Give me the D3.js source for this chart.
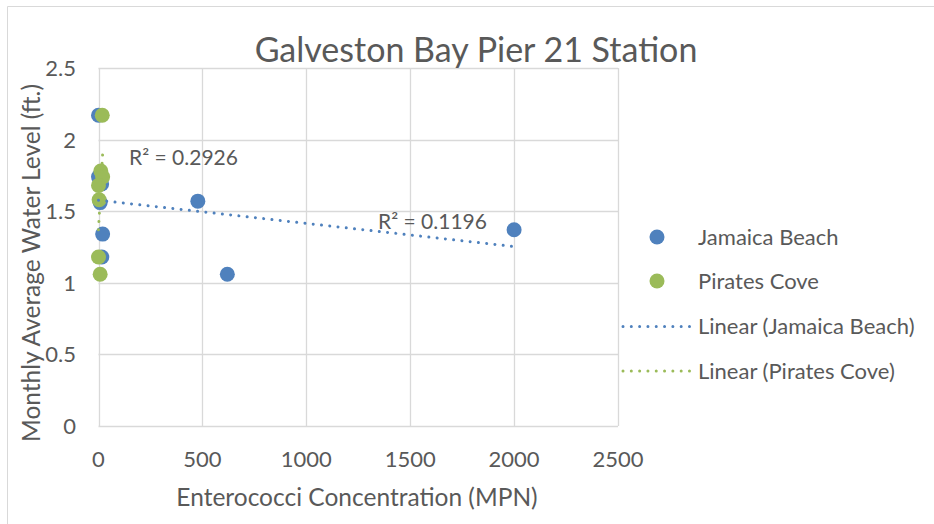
<!DOCTYPE html>
<meta charset="utf-8">
<style>
body { margin: 0; background: #fff; }
text { font-family: Lato, "Open Sans", sans-serif; fill: #595959; }
</style>
<html>
<head><title>Galveston Bay Pier 21 Station</title></head>
<body>
<svg id="chart" width="934" height="524"></svg>
</body>
</html>
<script src="https://cdnjs.cloudflare.com/ajax/libs/d3/7.8.5/d3.min.js"></script>
<script>
// data
var jamaicaX = [0, 0, 15, 8, 20, 16, 478, 620, 2000];
var jamaicaY = [2.17, 1.74, 1.69, 1.56, 1.34, 1.18, 1.57, 1.06, 1.37];
var piratesX = [18, 11, 20, 0, 3, 0, 8];
var piratesY = [2.17, 1.78, 1.74, 1.68, 1.58, 1.18, 1.06];
var xTicks = [0, 500, 1000, 1500, 2000, 2500];
var yTicks = [0, 0.5, 1, 1.5, 2, 2.5];
var seriesNames = ["Jamaica Beach", "Pirates Cove"];
var r2Labels = ["R\u00b2 = 0.1196", "R\u00b2 = 0.2926"];

var blue = "#4f81bd", green = "#9bbb59", grid = "#d9d9d9";

var svg = d3.select("#chart");

// outer chart border (top + left only show)
svg.append("path")
  .attr("d", "M7.5,524 V6.5 H934")
  .attr("fill", "none").attr("stroke", grid).attr("stroke-width", 1);

var x = d3.scaleLinear().domain([0, 2500]).range([98.5, 618]);
var y = d3.scaleLinear().domain([0, 2.5]).range([426, 68]);

// gridlines
svg.append("g").selectAll("line").data(yTicks).enter().append("line")
  .attr("x1", x(0)).attr("x2", x(2500))
  .attr("y1", function(d) { return Math.round(y(d)) + 0.5; })
  .attr("y2", function(d) { return Math.round(y(d)) + 0.5; })
  .attr("stroke", grid).attr("stroke-width", 1.3);
svg.append("g").selectAll("line").data(xTicks).enter().append("line")
  .attr("y1", y(0)).attr("y2", y(2.5))
  .attr("x1", function(d) { return Math.round(x(d)) + 0.5; })
  .attr("x2", function(d) { return Math.round(x(d)) + 0.5; })
  .attr("stroke", grid).attr("stroke-width", 1.3);

// tick labels
svg.append("g").selectAll("text").data(yTicks).enter().append("text")
  .attr("x", 76).attr("y", function(d) { return y(d); })
  .attr("dy", "0.36em").attr("text-anchor", "end")
  .style("font-size", "22px")
  .text(function(d) { return d; });
svg.append("g").selectAll("text").data(xTicks).enter().append("text")
  .attr("x", function(d) { return x(d); }).attr("y", 459)
  .attr("dy", "0.36em").attr("text-anchor", "middle")
  .style("font-size", "22px")
  .text(function(d) { return d; });

// titles
svg.append("text").attr("x", 476).attr("y", 50).attr("dy", "0.36em")
  .attr("text-anchor", "middle").style("font-size", "34px")
  .text("Galveston Bay Pier 21 Station");
svg.append("text").attr("x", 357).attr("y", 497).attr("dy", "0.36em")
  .attr("text-anchor", "middle").style("font-size", "24.5px")
  .text("Enterococci Concentration (MPN)");
svg.append("text").attr("transform", "translate(31,263) rotate(-90)")
  .attr("dy", "0.36em").attr("text-anchor", "middle").style("font-size", "24.5px")
  .text("Monthly Average Water Level (ft.)");

function pairs(xs, ys) {
  return xs.map(function(v, i) { return {x: v, y: ys[i]}; });
}

// least squares line over the series' x range, like an Excel linear trendline
function linearFit(pts) {
  var mx = d3.mean(pts, function(d) { return d.x; });
  var my = d3.mean(pts, function(d) { return d.y; });
  var sxy = 0, sxx = 0;
  pts.forEach(function(d) { sxy += (d.x - mx) * (d.y - my); sxx += (d.x - mx) * (d.x - mx); });
  var b = sxy / sxx, a = my - b * mx;
  var ext = d3.extent(pts, function(d) { return d.x; });
  return [{x: ext[0], y: a + b * ext[0]}, {x: ext[1], y: a + b * ext[1]}];
}

var jamaica = pairs(jamaicaX, jamaicaY);
var pirates = pairs(piratesX, piratesY);

// markers
[[jamaica, blue], [pirates, green]].forEach(function(s) {
  svg.append("g").selectAll("circle").data(s[0]).enter().append("circle")
    .attr("cx", function(d) { return x(d.x); })
    .attr("cy", function(d) { return y(d.y); })
    .attr("r", 7.5)
    .attr("fill", s[1]);
});

// trendlines
var line = d3.line().x(function(d) { return x(d.x); }).y(function(d) { return y(d.y); });
[[jamaica, blue], [pirates, green]].forEach(function(s) {
  svg.append("path").datum(linearFit(s[0]))
    .attr("d", line)
    .attr("fill", "none").attr("stroke", s[1])
    .attr("stroke-width", 3).attr("stroke-linecap", "round")
    .attr("stroke-dasharray", "0.01 8.3");
});

// R squared labels
svg.append("text").attr("x", 378).attr("y", 229).style("font-size", "21px").text(r2Labels[0]);
svg.append("text").attr("x", 129).attr("y", 165).style("font-size", "21px").text(r2Labels[1]);

// legend
var legendY = [237, 281, 326.5, 371];
var legendLabels = seriesNames.concat(seriesNames.map(function(n) { return "Linear (" + n + ")"; }));
var legendColors = [blue, green, blue, green];
var lg = svg.append("g");
legendLabels.forEach(function(lbl, i) {
  if (i < 2) {
    lg.append("circle").attr("cx", 657).attr("cy", legendY[i]).attr("r", 7.5).attr("fill", legendColors[i]);
  } else {
    lg.append("line").attr("x1", 623).attr("x2", 690)
      .attr("y1", legendY[i]).attr("y2", legendY[i])
      .attr("stroke", legendColors[i]).attr("stroke-width", 3)
      .attr("stroke-linecap", "round").attr("stroke-dasharray", "0.01 8.3");
  }
  lg.append("text").attr("x", 698).attr("y", legendY[i]).attr("dy", "0.36em")
    .style("font-size", "22px").text(lbl);
});
</script>
